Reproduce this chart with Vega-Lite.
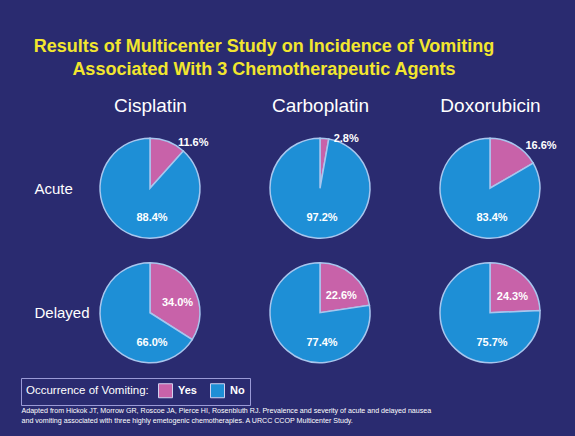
{
  "$schema": "https://vega.github.io/schema/vega-lite/v6.json",
  "autosize": "none",
  "width": 510,
  "height": 249,
  "padding": {"left": 65, "top": 126, "right": 0, "bottom": 61},
  "background": "#2a2b70",
  "title": {
    "text": ["Results of Multicenter Study on Incidence of Vomiting", "Associated With 3 Chemotherapeutic Agents"],
    "color": "#f2e62e",
    "font": "Liberation Sans",
    "fontSize": 18,
    "fontWeight": "bold",
    "lineHeight": 23,
    "anchor": "middle",
    "frame": "group",
    "dx": -56,
    "offset": 17
  },
  "data": {
    "values": [
      {"drug": "Cisplatin", "phase": "Acute", "answer": "Yes", "value": 0.116},
      {"drug": "Cisplatin", "phase": "Acute", "answer": "No", "value": 0.884},
      {"drug": "Carboplatin", "phase": "Acute", "answer": "Yes", "value": 0.028},
      {"drug": "Carboplatin", "phase": "Acute", "answer": "No", "value": 0.972},
      {"drug": "Doxorubicin", "phase": "Acute", "answer": "Yes", "value": 0.166},
      {"drug": "Doxorubicin", "phase": "Acute", "answer": "No", "value": 0.834},
      {"drug": "Cisplatin", "phase": "Delayed", "answer": "Yes", "value": 0.34},
      {"drug": "Cisplatin", "phase": "Delayed", "answer": "No", "value": 0.66},
      {"drug": "Carboplatin", "phase": "Delayed", "answer": "Yes", "value": 0.226},
      {"drug": "Carboplatin", "phase": "Delayed", "answer": "No", "value": 0.774},
      {"drug": "Doxorubicin", "phase": "Delayed", "answer": "Yes", "value": 0.243},
      {"drug": "Doxorubicin", "phase": "Delayed", "answer": "No", "value": 0.757}
    ]
  },
  "encoding": {
    "y": {
      "field": "phase",
      "type": "nominal",
      "sort": ["Acute", "Delayed"],
      "scale": {"type": "point", "padding": 0.5},
      "axis": {
        "orient": "left",
        "title": null,
        "domain": false,
        "ticks": false,
        "tickSize": 0,
        "grid": false,
        "labelAlign": "left",
        "labelBaseline": "middle",
        "labelPadding": 31,
        "labelColor": "white",
        "labelFont": "Liberation Sans",
        "labelFontSize": 15
      }
    }
  },
  "layer": [
    {
      "transform": [
        {"stack": "value", "groupby": ["drug", "phase"], "sort": [{"field": "answer", "order": "descending"}], "as": ["v0", "v1"]}
      ],
      "mark": {"type": "arc", "radius": 50, "stroke": "#a8c6ee", "strokeWidth": 1.5},
      "encoding": {
        "x": {
          "field": "drug",
          "type": "nominal",
          "sort": ["Cisplatin", "Carboplatin", "Doxorubicin"],
          "scale": {"type": "point", "padding": 0.5},
          "axis": {
            "orient": "top",
            "title": null,
            "domain": false,
            "ticks": false,
            "tickSize": 0,
            "grid": false,
            "labelAngle": 0,
            "labelPadding": 11,
            "labelColor": "white",
            "labelFont": "Liberation Sans",
            "labelFontSize": 19
          }
        },
        "theta": {"field": "v0", "type": "quantitative", "stack": null, "scale": {"domain": [0, 1]}},
        "theta2": {"field": "v1"},
        "color": {
          "field": "answer",
          "type": "nominal",
          "scale": {"domain": ["Yes", "No"], "range": ["#c862a9", "#1e8fd6"]},
          "legend": {
            "title": "Occurrence of Vomiting:",
            "orient": "none",
            "legendX": -44,
            "legendY": 252,
            "direction": "horizontal",
            "titleOrient": "left",
            "titleColor": "white",
            "titleFont": "Liberation Sans",
            "titleFontSize": 11.5,
            "titleFontWeight": "normal",
            "titlePadding": 9,
            "labelColor": "white",
            "labelFont": "Liberation Sans",
            "labelFontSize": 11,
            "labelFontWeight": "bold",
            "labelOffset": 5,
            "columnPadding": 11,
            "symbolType": "square",
            "symbolSize": 196,
            "symbolStrokeColor": "#d0d0f0",
            "symbolStrokeWidth": 1,
            "symbolOpacity": 1,
            "strokeColor": "#9a9ad6",
            "fillColor": "#2a2b70",
            "padding": 5
          }
        }
      }
    },
    {
      "transform": [{"filter": "datum.phase === 'Acute' && datum.answer === 'Yes'"}],
      "mark": {"type": "text", "radius": 53, "dx": 9, "dy": 4, "align": "left", "color": "white", "font": "Liberation Sans", "fontSize": 11, "fontWeight": "bold"},
      "encoding": {
        "x": {"field": "drug", "type": "nominal", "sort": ["Cisplatin", "Carboplatin", "Doxorubicin"], "axis": null},
        "theta": {"field": "value", "type": "quantitative", "stack": null, "scale": {"domain": [0, 2]}},
        "text": {"field": "value", "type": "quantitative", "format": ".1%"}
      }
    },
    {
      "transform": [{"filter": "datum.phase === 'Delayed' && datum.answer === 'Yes'"}],
      "mark": {"type": "text", "radius": 28, "dx": 3, "dy": 4, "color": "white", "font": "Liberation Sans", "fontSize": 11, "fontWeight": "bold"},
      "encoding": {
        "x": {"field": "drug", "type": "nominal", "sort": ["Cisplatin", "Carboplatin", "Doxorubicin"], "axis": null},
        "theta": {"field": "value", "type": "quantitative", "stack": null, "scale": {"domain": [0, 2]}},
        "text": {"field": "value", "type": "quantitative", "format": ".1%"}
      }
    },
    {
      "transform": [{"filter": "datum.answer === 'No'"}],
      "mark": {"type": "text", "dx": 2, "dy": 30, "color": "white", "font": "Liberation Sans", "fontSize": 11, "fontWeight": "bold"},
      "encoding": {
        "x": {
          "field": "drug",
          "type": "nominal",
          "sort": ["Cisplatin", "Carboplatin", "Doxorubicin"],
          "axis": {
            "orient": "bottom",
            "labels": false,
            "domain": false,
            "ticks": false,
            "grid": false,
            "title": [
              "Adapted from Hickok JT, Morrow GR, Roscoe JA, Pierce HI, Rosenbluth RJ. Prevalence and severity of acute and delayed nausea",
              "and vomiting associated with three highly emetogenic chemotherapies. A URCC CCOP Multicenter Study."
            ],
            "titleX": -44,
            "titleY": 31,
            "titleAlign": "left",
            "titleAnchor": "start",
            "titleBaseline": "top",
            "titleColor": "white",
            "titleFont": "Liberation Sans",
            "titleFontSize": 7.1,
            "titleFontWeight": "normal",
            "titleLineHeight": 10
          }
        },
        "text": {"field": "value", "type": "quantitative", "format": ".1%"}
      }
    }
  ],
  "resolve": {"axis": {"x": "independent"}, "scale": {"theta": "independent"}},
  "config": {"view": {"stroke": null}}
}
